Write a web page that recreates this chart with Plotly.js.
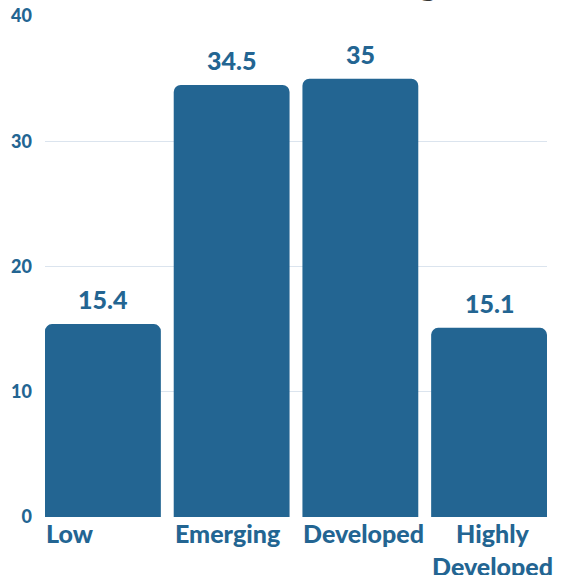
<!DOCTYPE html>
<html>
<head>
<meta charset="utf-8">
<script src="https://cdn.plot.ly/plotly-3.0.1.min.js"></script>
<style>html,body{margin:0;padding:0;background:#fff;}#chart{width:562px;height:575px;}</style>
</head>
<body>
<div id="chart"></div>
<script>
const categories = ["Low", "Emerging", "Developed", "Highly<br>Developed"];
const values = [15.4, 34.5, 35, 15.1];
const yTickVals = [0, 10, 20, 30, 40];
const titleText = "Readiness Rating";

const BLUE = "#236592";
const FONT = "Lato, 'Open Sans', sans-serif";

const trace = {
  type: "bar",
  x: categories,
  y: values,
  marker: { color: BLUE, cornerradius: 7 },
  hoverinfo: "none"
};

const valueLabels = categories.map((c, i) => ({
  x: c, y: values[i], xref: "x", yref: "y",
  text: String(values[i]),
  showarrow: false, yanchor: "bottom", yshift: 8,
  font: { family: FONT, size: 25, color: BLUE, weight: 900 }
}));

const categoryLabels = categories.map((c) => ({
  x: c, y: 0, xref: "x", yref: "y",
  text: c, showarrow: false,
  xanchor: "left", xshift: -59, yanchor: "top", yshift: 1,
  align: "center",
  font: { family: FONT, size: 25, color: BLUE, weight: 900 }
}));

const titleAnn = {
  xref: "paper", yref: "paper", x: 0.5, y: 1, xanchor: "center", yanchor: "bottom",
  xshift: -7, yshift: 11, text: titleText, showarrow: false,
  font: { family: FONT, size: 40, color: "#333333" }
};

const layout = {
  width: 562, height: 575,
  margin: { l: 45, r: 15, t: 16, b: 58 },
  paper_bgcolor: "#ffffff", plot_bgcolor: "#ffffff",
  bargap: 0.1,
  showlegend: false,
  xaxis: {
    range: [-0.45, 3.45],
    showgrid: false, zeroline: false, showline: false, ticks: "",
    showticklabels: false,
    fixedrange: true
  },
  yaxis: {
    range: [0, 40],
    tickvals: yTickVals,
    showgrid: true, gridcolor: "#dbe4ee", gridwidth: 1,
    zeroline: false, showline: false, ticks: "",
    ticklabelstandoff: 12,
    tickfont: { family: FONT, size: 18, color: BLUE, weight: 900 },
    fixedrange: true
  },
  annotations: valueLabels.concat(categoryLabels, [titleAnn])
};

Plotly.newPlot("chart", [trace], layout, { displayModeBar: false, staticPlot: true });
</script>
</body>
</html>
